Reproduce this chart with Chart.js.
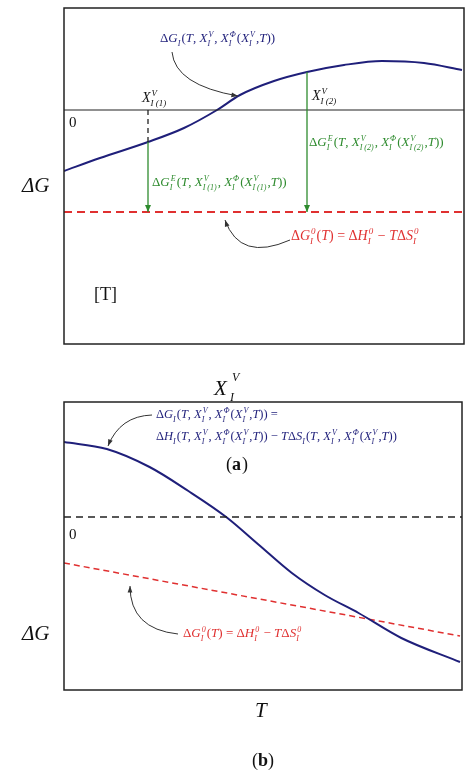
<!DOCTYPE html><html><head><meta charset="utf-8">
<script src="https://cdn.jsdelivr.net/npm/chart.js@4"></script>
<style>body{margin:0;background:#fff;width:474px;height:779px;position:relative;overflow:hidden}
.w{position:absolute;left:0;width:474px}</style></head><body>
<div class="w" style="top:0;height:480px"><canvas id="a"></canvas></div>
<div class="w" style="top:394px;height:385px"><canvas id="b"></canvas></div>
<script>
// Panel (a): x = X_I^V (arbitrary units), y = ΔG (arbitrary units, 0 = reference)
const aX = [0, 36, 84, 120, 153, 176, 210, 243, 280, 318, 360, 398];
const aG = [-61, -48, -32, -18, 0, 15, 29, 38, 45, 49, 47, 40];
const aG0 = -102;
const aMarks = [84, 243]; // X_I(1)^V, X_I(2)^V
// Panel (b): x = T, y = ΔG
const bX = [0, 43, 86, 125, 163, 196, 229, 262, 296, 339, 398];
const bG = [75, 68, 50, 26, 0, -28, -56, -78, -96, -121, -145];
const bX0 = [0, 398];
const bG0 = [-46, -119];

const NAVY='#1f1f7a', GREEN='#2e8b2e', RED='#e03030';
function rich(ctx,x,y,s,size,color){
  ctx.fillStyle=color; let cx=x;
  const base=size+'px "Liberation Serif"', it='italic '+size+'px "Liberation Serif"', sm='italic '+Math.round(size*0.62)+'px "Liberation Serif"';
  let i=0;
  while(i<s.length){
    let c=s[i];
    if(c==='_'||c==='^'){
      let sub='',sup='';
      while(i<s.length&&(s[i]==='_'||s[i]==='^')){
        const k=s[i];i++;let t='';
        if(s[i]==='{'){i++;while(s[i]!=='}'){t+=s[i];i++;}i++;}else{t=s[i];i++;}
        if(k==='_')sub=t;else sup=t;
      }
      ctx.font=sm; let w=0;
      if(sup){ctx.fillText(sup,cx+1,y-size*0.42);w=Math.max(w,ctx.measureText(sup).width+1);}
      if(sub){ctx.fillText(sub,cx,y+size*0.3);w=Math.max(w,ctx.measureText(sub).width);}
      cx+=w+1; continue;
    }
    ctx.font=/[A-Za-z]/.test(c)?it:base;
    ctx.fillText(c,cx,y); cx+=ctx.measureText(c).width; i++;
  }
}
function arrow(ctx,x0,y0,cx,cy,x1,y1){
  ctx.save();ctx.strokeStyle='#333';ctx.fillStyle='#333';ctx.lineWidth=1;ctx.setLineDash([]);
  ctx.beginPath();ctx.moveTo(x0,y0);ctx.quadraticCurveTo(cx,cy,x1,y1);ctx.stroke();
  const a=Math.atan2(y1-cy,x1-cx);ctx.beginPath();ctx.moveTo(x1,y1);
  ctx.lineTo(x1-7*Math.cos(a-0.35),y1-7*Math.sin(a-0.35));ctx.lineTo(x1-7*Math.cos(a+0.35),y1-7*Math.sin(a+0.35));ctx.fill();ctx.restore();
}
function vline(ctx,x,y0,y1,color,dash,head){
  ctx.save();ctx.strokeStyle=color;ctx.fillStyle=color;ctx.lineWidth=1.3;ctx.setLineDash(dash);
  ctx.beginPath();ctx.moveTo(x,y0);ctx.lineTo(x,y1);ctx.stroke();
  if(head){ctx.setLineDash([]);const d=Math.sign(y1-y0);ctx.beginPath();ctx.moveTo(x,y1);ctx.lineTo(x-3,y1-7*d);ctx.lineTo(x+3,y1-7*d);ctx.fill();}
  ctx.restore();
}
function box(ctx,ca){ctx.save();ctx.strokeStyle='#222';ctx.lineWidth=1.5;ctx.strokeRect(ca.left,ca.top,ca.right-ca.left,ca.bottom-ca.top);ctx.restore();}

const plugA={id:'pa',afterDraw(c){
  const ctx=c.ctx,x=c.scales.x,y=c.scales.y,ca=c.chartArea;
  box(ctx,ca);
  ctx.save();ctx.strokeStyle='#222';ctx.lineWidth=1.2;ctx.beginPath();ctx.moveTo(ca.left,y.getPixelForValue(0));ctx.lineTo(ca.right,y.getPixelForValue(0));ctx.stroke();ctx.restore();
  const g1=aG[aX.indexOf(aMarks[0])], g2=aG[aX.indexOf(aMarks[1])];
  vline(ctx,x.getPixelForValue(aMarks[0]),y.getPixelForValue(0),y.getPixelForValue(g1),'#222',[5,4],false);
  vline(ctx,x.getPixelForValue(aMarks[0]),y.getPixelForValue(g1),y.getPixelForValue(aG0),GREEN,[],true);
  vline(ctx,x.getPixelForValue(aMarks[1]),y.getPixelForValue(g2),y.getPixelForValue(aG0),GREEN,[],true);
  ctx.font='15px "Liberation Serif"';ctx.fillStyle='#111';ctx.fillText('0',ca.left+5,y.getPixelForValue(0)+17);
  rich(ctx,160,42,'ΔG_I(T, X_I^V, X_I^Φ(X_I^V,T))',13,NAVY);
  rich(ctx,142,102,'X_{I (1)}^V',14,'#111');
  rich(ctx,312,100,'X_{I (2)}^V',14,'#111');
  rich(ctx,309,146,'ΔG_I^E(T, X_{I (2)}^V, X_I^Φ(X_{I (2)}^V,T))',13,GREEN);
  rich(ctx,152,186,'ΔG_I^E(T, X_{I (1)}^V, X_I^Φ(X_{I (1)}^V,T))',13,GREEN);
  rich(ctx,291,240,'ΔG_I^0(T) = ΔH_I^0 − TΔS_I^0',14,RED);
  arrow(ctx,172,52,175,85,238,96);
  arrow(ctx,290,240,240,262,225,220);
  ctx.font='italic 21px "Liberation Serif"';ctx.fillStyle='#111';ctx.fillText('ΔG',22,192);
  ctx.font='18px "Liberation Serif"';ctx.fillText('[T]',94,300);
  ctx.font='italic 21px "Liberation Serif"';ctx.fillText('X',214,395);ctx.font='italic 12px "Liberation Serif"';ctx.fillText('V',232,381);ctx.fillText('I',230,401);
  ctx.font='18px "Liberation Serif"';ctx.fillText('(',226,470);ctx.font='bold 18px "Liberation Serif"';ctx.fillText('a',232,470);ctx.font='18px "Liberation Serif"';ctx.fillText(')',242,470);
}};
const plugB={id:'pb',afterDraw(c){
  const ctx=c.ctx,x=c.scales.x,y=c.scales.y,ca=c.chartArea;
  box(ctx,ca);
  ctx.save();ctx.strokeStyle='#222';ctx.lineWidth=1.5;ctx.setLineDash([7,5]);ctx.beginPath();ctx.moveTo(ca.left,y.getPixelForValue(0));ctx.lineTo(ca.right,y.getPixelForValue(0));ctx.stroke();ctx.restore();
  ctx.font='15px "Liberation Serif"';ctx.fillStyle='#111';ctx.fillText('0',ca.left+5,y.getPixelForValue(0)+22);
  rich(ctx,156,24,'ΔG_I(T, X_I^V, X_I^Φ(X_I^V,T)) =',12.5,NAVY);
  rich(ctx,156,46,'ΔH_I(T, X_I^V, X_I^Φ(X_I^V,T)) − TΔS_I(T, X_I^V, X_I^Φ(X_I^V,T))',12.5,NAVY);
  rich(ctx,183,243,'ΔG_I^0(T) = ΔH_I^0 − TΔS_I^0',13,RED);
  arrow(ctx,152,21,120,22,108,52);
  arrow(ctx,178,240,130,235,130,192);
  ctx.font='italic 21px "Liberation Serif"';ctx.fillStyle='#111';ctx.fillText('ΔG',22,246);
  ctx.fillText('T',255,323);
  ctx.font='18px "Liberation Serif"';ctx.fillText('(',252,372);ctx.font='bold 18px "Liberation Serif"';ctx.fillText('b',258,372);ctx.font='18px "Liberation Serif"';ctx.fillText(')',268,372);
}};
const common=(pad,ymin,ymax)=>({responsive:true,maintainAspectRatio:false,animation:false,
  layout:{padding:pad},plugins:{legend:{display:false},tooltip:{enabled:false}},
  scales:{x:{type:'linear',min:0,max:400,display:false},y:{min:ymin,max:ymax,display:false}}});
new Chart(document.getElementById('a'),{type:'line',plugins:[plugA],data:{datasets:[
  {data:aX.map((v,i)=>({x:v,y:aG[i]})),borderColor:NAVY,borderWidth:2,pointRadius:0,cubicInterpolationMode:'monotone'},
  {data:[{x:0,y:aG0},{x:400,y:aG0}],borderColor:RED,borderWidth:2,borderDash:[8,5],pointRadius:0}
]},options:common({left:64,right:10,top:8,bottom:136},-234,102)});
new Chart(document.getElementById('b'),{type:'line',plugins:[plugB],data:{datasets:[
  {data:bX.map((v,i)=>({x:v,y:bG[i]})),borderColor:NAVY,borderWidth:2,pointRadius:0,cubicInterpolationMode:'monotone'},
  {data:bX0.map((v,i)=>({x:v,y:bG0[i]})),borderColor:RED,borderWidth:1.5,borderDash:[6,4],pointRadius:0}
]},options:common({left:64,right:12,top:8,bottom:89},-173,115)});
</script></body></html>
